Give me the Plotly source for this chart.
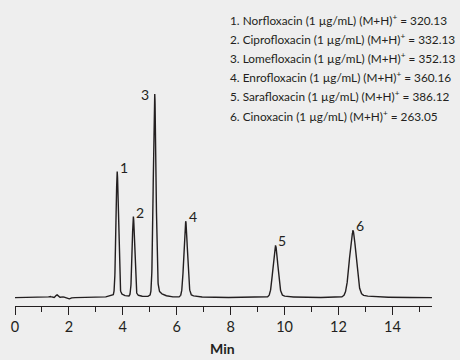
import numpy as np
import plotly.graph_objects as go

# ---- data ----
peak_labels = ["1", "2", "3", "4", "5", "6"]
retention_min = [3.79, 4.39, 5.18, 6.33, 9.66, 12.53]
peak_height = [61.6, 39.5, 100.0, 37.4, 25.6, 33.0]
peak_sigma = [0.045, 0.045, 0.05, 0.065, 0.09, 0.12]

compounds = ["Norfloxacin", "Ciprofloxacin", "Lomefloxacin",
             "Enrofloxacin", "Sarafloxacin", "Cinoxacin"]
mh_values = ["320.13", "332.13", "352.13", "360.16", "386.12", "263.05"]

# small baseline features (time, height, width)
noise_t = [1.30, 1.55, 1.75, 2.02, 3.55]
noise_h = [0.6, 1.4, 0.5, -0.6, 0.6]
noise_w = [0.05, 0.04, 0.05, 0.05, 0.15]

x_ticks = [0, 2, 4, 6, 8, 10, 12, 14]

# ---- build trace ----
t = np.arange(0, 15.47, 0.004)
y = np.zeros_like(t)
for rt, h, s in zip(retention_min, peak_height, peak_sigma):
    g = np.exp(-0.5 * ((t - rt) / s) ** 2)
    lor = 1.0 / (1.0 + ((t - rt) / (1.4 * s)) ** 2)
    tail = np.where(t > rt, np.exp(-(t - rt) / (6 * s)), 0) * np.exp(-0.5 * ((t - rt) / (12 * s)) ** 2)
    y += h * (0.9 * g + 0.06 * lor + 0.04 * tail)
for nt, nh, nw in zip(noise_t, noise_h, noise_w):
    y += nh * np.exp(-0.5 * ((t - nt) / nw) ** 2)

INK = "#231f20"
BG = "#eeeeee"
FONT = "Lato"

fig = go.Figure()
fig.add_trace(go.Scatter(x=t, y=y, mode="lines",
                         line=dict(color=INK, width=1.4), hoverinfo="skip"))

# peak labels
label_side = ["right", "right", "left", "right", "right", "right"]
for lab, rt, h, side in zip(peak_labels, retention_min, peak_height, label_side):
    fig.add_annotation(x=rt, y=h, text=lab, showarrow=False,
                       xanchor="left" if side == "right" else "right",
                       yanchor="bottom",
                       xshift=1 if side == "right" else -4,
                       yshift=-6 if side == "right" else -12,
                       font=dict(family=FONT, size=14, color=INK))

# legend text
L, T, B, R = 15, 10, 305.7, 431.7
for i, (c, v) in enumerate(zip(compounds, mh_values)):
    py = 19.5 + i * 19.2
    fig.add_annotation(xref="paper", yref="paper",
                       x=(228 - L) / (R - L), y=(B - py) / (B - T),
                       xanchor="left", yanchor="middle", showarrow=False,
                       text=f"{i+1}. {c} (1 µg/mL) (M+H)<sup>+</sup> = {v}",
                       font=dict(family=FONT, size=11.8, color=INK))

# axis title
fig.add_annotation(xref="paper", yref="paper", x=(222 - L) / (R - L),
                   y=(B - 348) / (B - T), xanchor="center", yanchor="middle",
                   showarrow=False, text="<b>Min</b>",
                   font=dict(family=FONT, size=14, color=INK))

fig.update_layout(
    width=460, height=360,
    margin=dict(l=L, r=460 - R, t=T, b=360 - B, autoexpand=False),
    paper_bgcolor=BG, plot_bgcolor=BG,
    showlegend=False,
    font=dict(family=FONT, color=INK),
    xaxis=dict(range=[0, 15.47], tickvals=x_ticks, ticks="outside",
               ticklen=8, tickwidth=1, tickcolor=INK, automargin=False,
               showline=True, linecolor=INK, linewidth=1,
               showgrid=False, zeroline=False,
               tickfont=dict(family=FONT, size=14.5, color=INK),
               minor=dict(dtick=1, ticks="outside", ticklen=5, tickcolor=INK, tickwidth=1)),
    yaxis=dict(range=[-4.1, 140.8], visible=False, automargin=False),
)

fig.write_html("out.html", config={"displayModeBar": False},
               post_script="document.body.style.margin='0';document.body.style.background='#eeeeee';")
